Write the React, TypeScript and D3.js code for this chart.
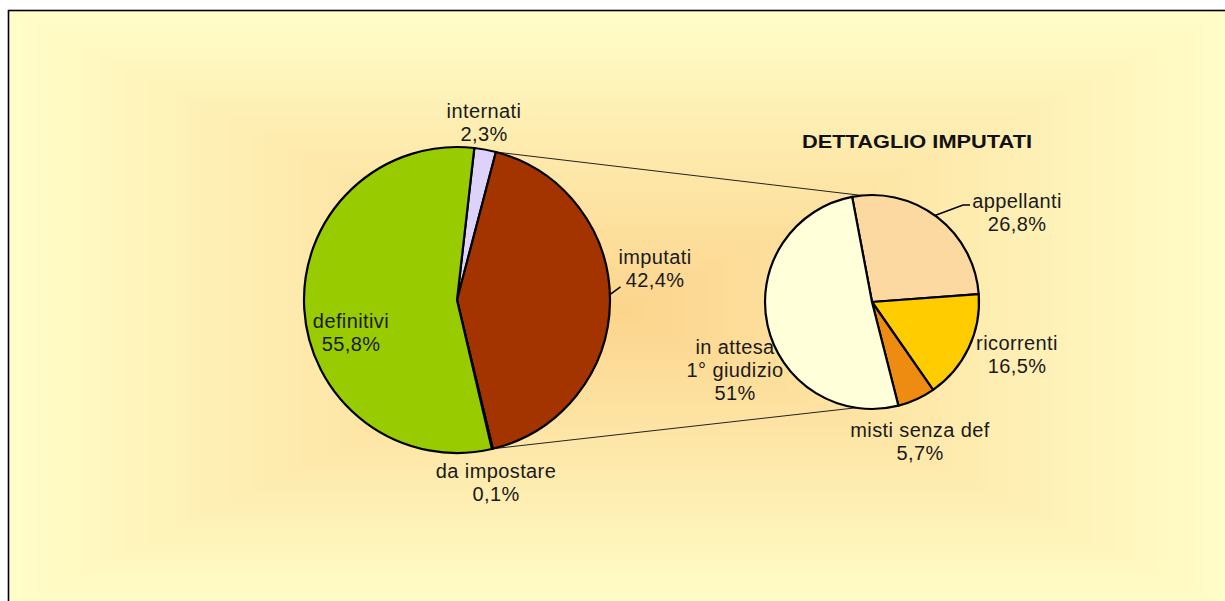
import React from "react";
import * as d3 from "d3";

// main pie
const mainNames = ["internati", "imputati", "da impostare", "definitivi"];
const mainValues = [2.3, 42.4, 0.1, 55.8];
const mainColors = ["#DDD2FA", "#A33400", "#E8E8E8", "#99CC00"];

// detail pie (imputati)
const detailNames = ["appellanti", "ricorrenti", "misti senza def", "in attesa\n1° giudizio"];
const detailValues = [26.8, 16.5, 5.7, 51];
const detailColors = ["#FCD9A0", "#FFCC00", "#EE8C12", "#FFFFDA"];

const detailTitle = "DETTAGLIO IMPUTATI";

const W = 1225;
const H = 601;
const FONT = "'Liberation Sans', Arial, sans-serif";

const rad = (deg: number) => (deg * Math.PI) / 180;
const polar = (cx: number, cy: number, r: number, a: number): [number, number] => [
  cx + r * Math.sin(a),
  cy - r * Math.cos(a),
];
const pct = (v: number) => String(v).replace(".", ",") + "%";

// label block centres, relative to the pie centre
const mainLabelOffsets: [number, number][] = [
  [27, -178],
  [198, -32],
  [39, 182],
  [-106, 32],
];
const detailLabelOffsets: [number, number][] = [
  [145, -90],
  [145, 52],
  [48, 139],
  [-137, 68],
];

const App: React.FC = () => {
  const main = { cx: 457, cy: 300, r: 153 };
  const detail = { cx: 872, cy: 302, r: 107 };

  const mainStart = rad(6.5);
  const mainArcs = d3
    .pie<number>()
    .sort(null)
    .value((d) => d)
    .startAngle(mainStart)
    .endAngle(mainStart + 2 * Math.PI)(mainValues);

  const detailStart = rad(-10.7);
  const detailArcs = d3
    .pie<number>()
    .sort(null)
    .value((d) => d)
    .startAngle(detailStart)
    .endAngle(detailStart + 2 * Math.PI)(detailValues);

  const mainArc = d3.arc<d3.PieArcDatum<number>>().innerRadius(0).outerRadius(main.r);
  const detailArc = d3.arc<d3.PieArcDatum<number>>().innerRadius(0).outerRadius(detail.r);

  // connector lines from the imputati slice to the detail pie
  const imp = mainArcs[1];
  const topA = polar(main.cx, main.cy, main.r, imp.startAngle);
  const botA = polar(main.cx, main.cy, main.r, imp.endAngle);
  const topB = polar(detail.cx, detail.cy, detail.r, rad(-5.4));
  const botB = polar(detail.cx, detail.cy, detail.r, rad(188.6));

  // background: rectangular "from centre" gradient
  const bg = { x0: 9, y0: 11, x1: 1232, y1: 610 };
  const bcx = (bg.x0 + bg.x1) / 2;
  const bcy = (bg.y0 + bg.y1) / 2;
  const hw = (bg.x1 - bg.x0) / 2;
  const hh = (bg.y1 - bg.y0) / 2;
  const col = d3.interpolateRgb("#FCD48C", "#FFFDC8");
  const steps = 48;

  const lineH = 23;
  const fs = 20;

  const drawLabel = (
    key: string,
    lines: string[],
    x: number,
    y: number
  ) => {
    const y0 = y - ((lines.length - 1) * lineH) / 2;
    return (
      <text
        key={key}
        x={x}
        textAnchor="middle"
        fontFamily={FONT}
        fontSize={fs}
        fill="#1a1a1a"
        letterSpacing={0.4}
      >
        {lines.map((l, i) => (
          <tspan key={i} x={x} y={y0 + i * lineH} dy="0.35em">
            {l}
          </tspan>
        ))}
      </text>
    );
  };

  // leader lines (imputati, appellanti)
  const impLeader = [
    polar(main.cx, main.cy, main.r, rad(88)),
    polar(main.cx, main.cy, main.r + 11, rad(85.4)),
  ];
  const appLeader = [
    polar(detail.cx, detail.cy, detail.r, rad(36)),
    polar(detail.cx, detail.cy, 133, rad(43.2)),
  ];

  return (
    <svg
      width={W}
      height={H}
      style={{ position: "absolute", left: 0, top: 0, background: "#fff" }}
    >
      <g>
        {d3.range(steps).map((i) => {
          const t = 1 - i / steps;
          return (
            <rect
              key={i}
              x={bcx - hw * t}
              y={bcy - hh * t}
              width={2 * hw * t}
              height={2 * hh * t}
              fill={col(t)}
            />
          );
        })}
      </g>
      <rect
        x={8.5}
        y={10.5}
        width={1300}
        height={700}
        fill="none"
        stroke="#000"
        strokeWidth={1.6}
      />

      <line x1={topA[0]} y1={topA[1]} x2={topB[0]} y2={topB[1]} stroke="#222" strokeWidth={1} />
      <line x1={botA[0]} y1={botA[1]} x2={botB[0]} y2={botB[1]} stroke="#222" strokeWidth={1} />

      <g transform={`translate(${main.cx},${main.cy})`}>
        {mainArcs.map((a, i) => (
          <path
            key={mainNames[i]}
            d={mainArc(a) ?? ""}
            fill={mainColors[i]}
            stroke="#000"
            strokeWidth={2.2}
            strokeLinejoin="round"
          />
        ))}
      </g>

      <g transform={`translate(${detail.cx},${detail.cy})`}>
        {detailArcs.map((a, i) => (
          <path
            key={detailNames[i]}
            d={detailArc(a) ?? ""}
            fill={detailColors[i]}
            stroke="#000"
            strokeWidth={2.2}
            strokeLinejoin="round"
          />
        ))}
      </g>

      <polyline
        points={impLeader.map((p) => p.join(",")).join(" ")}
        fill="none"
        stroke="#000"
        strokeWidth={1.5}
      />
      <polyline
        points={[...appLeader, [appLeader[1][0] + 7, appLeader[1][1]]]
          .map((p) => p.join(","))
          .join(" ")}
        fill="none"
        stroke="#000"
        strokeWidth={1.5}
      />

      {mainNames.map((n, i) =>
        drawLabel(
          "m" + i,
          [...n.split("\n"), pct(mainValues[i])],
          main.cx + mainLabelOffsets[i][0],
          main.cy + mainLabelOffsets[i][1]
        )
      )}
      {detailNames.map((n, i) =>
        drawLabel(
          "d" + i,
          [...n.split("\n"), pct(detailValues[i])],
          detail.cx + detailLabelOffsets[i][0],
          detail.cy + detailLabelOffsets[i][1]
        )
      )}

      <text
        x={917}
        y={141}
        dy="0.35em"
        textAnchor="middle"
        fontFamily={FONT}
        fontSize={19}
        fontWeight="bold"
        fill="#111"
        textLength={230}
        lengthAdjust="spacingAndGlyphs"
      >
        {detailTitle}
      </text>
    </svg>
  );
};

export default App;
